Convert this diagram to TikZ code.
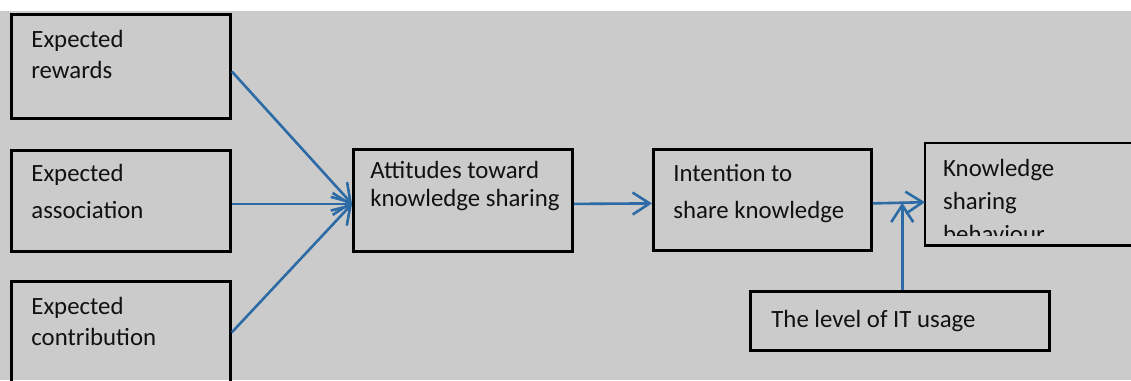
\documentclass[tikz,border=0pt]{standalone}
\usepackage{fontspec}
\setmainfont{Carlito}
\usetikzlibrary{arrows.meta,calc}
\definecolor{bg}{HTML}{CBCBCB}
\definecolor{link}{HTML}{2D6BA6}
\definecolor{ink}{HTML}{111111}

% box text: width, height, left pad, first baseline below top, line spacing, lines
\newcommand{\boxtext}[6]{%
  \parbox[c][#2][t]{#1}{\fontsize{24.8}{#5}\selectfont\raggedright
    \leftskip=#3\relax\rule{0pt}{#4}#6\par}}

\tikzset{
  factor/.style={draw=black, line width=2.8pt, inner sep=0pt, anchor=north west, text=ink},
  plain/.style={inner sep=0pt, anchor=north west, text=ink},
  arr/.style={draw=link, line width=2.6pt,
    -{Straight Barb[length=17pt,width=22pt,line width=2.6pt]}},
}

\begin{document}
\begin{tikzpicture}[x=1pt,y=-1pt]
  \useasboundingbox (0,0) rectangle (1131,380);
  \fill[white] (0,0) rectangle (1131,380);
  \fill[bg] (0,11) rectangle (1131,380);

  % antecedents
  \node[factor] (b1) at (10,13)
    {\boxtext{219pt}{104pt}{20pt}{33pt}{31pt}{Expected\\rewards}};
  \node[factor] (b2) at (10,149)
    {\boxtext{219pt}{101pt}{20pt}{31pt}{37pt}{Expected\\association}};
  \node[factor] (b3) at (10,280)
    {\boxtext{219pt}{102pt}{20pt}{33pt}{31pt}{Expected\\contribution}};

  % attitude and intention
  \node[factor] (att) at (352,148)
    {\boxtext{219pt}{102pt}{17pt}{29pt}{28pt}{Attitudes toward\\knowledge sharing}};
  \node[factor] (int) at (652,148)
    {\boxtext{218pt}{101pt}{20pt}{32pt}{37pt}{Intention to\\share knowledge}};

  % behaviour (text cut off at the lower edge)
  \begin{scope}
    \clip (925,143) rectangle (1140,235);
    \node[plain] (kn) at (925,143)
      {\boxtext{215pt}{102pt}{18pt}{33pt}{33pt}{Knowledge\\sharing\\behaviour}};
  \end{scope}
  \draw[line width=2.8pt] (kn.north west) rectangle (kn.south east);

  % moderator
  \node[factor] (it) at (749,290)
    {\boxtext{299pt}{59pt}{21pt}{36pt}{30pt}{The level of IT usage}};

  % connectors
  \draw[arr] ([yshift=-5pt]b1.east) -- ([yshift=-3.5pt]att.west);
  \draw[arr] ([yshift=-3pt]b2.east) -- ([yshift=-3.5pt]att.west);
  \draw[arr] (b3.east) -- ([yshift=-3.5pt]att.west);
  \draw[arr] ([yshift=-3.5pt]att.east) -- ([yshift=-3.5pt]int.west);
  \draw[arr] ([yshift=-3.5pt]int.east) -- ([yshift=-8pt]kn.west)
    coordinate[pos=0.564] (j);
  \draw[arr] (it.north -| j) -- (j);
\end{tikzpicture}
\end{document}
